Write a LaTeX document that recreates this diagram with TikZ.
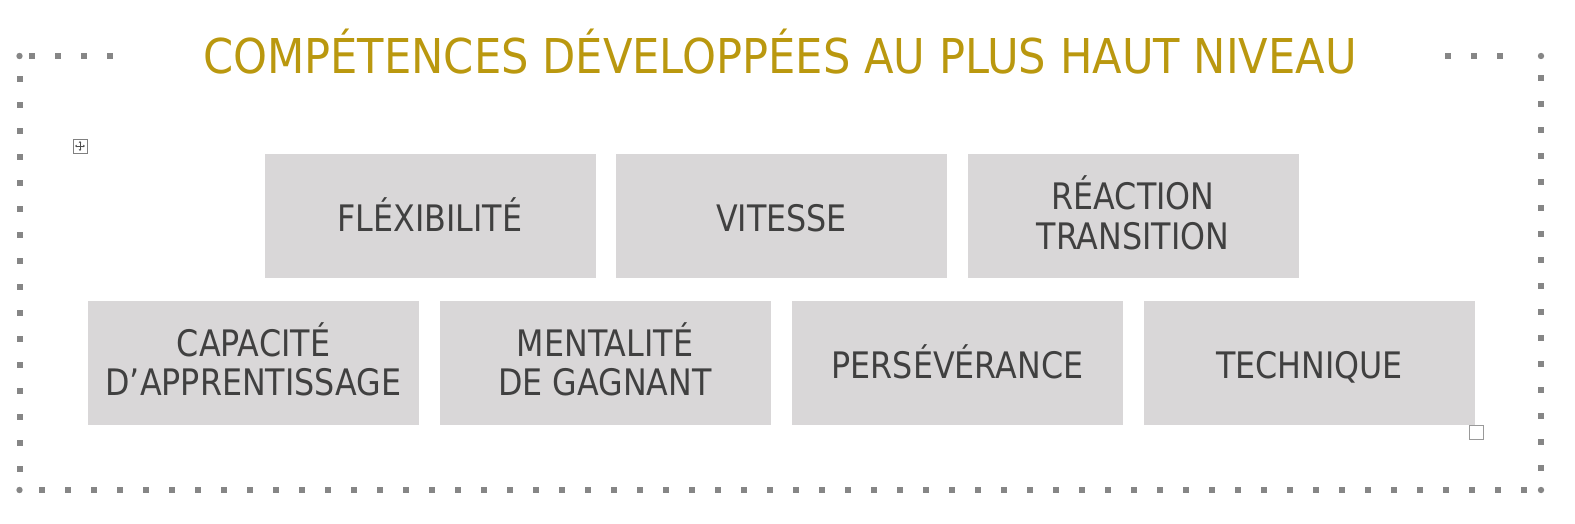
\documentclass[tikz,border=0pt]{standalone}
\usepackage{fontspec}
\setmainfont{DejaVu Sans}
\newfontfamily\boxfont[FakeStretch=0.87]{DejaVu Sans}
\newfontfamily\titlefont[FakeStretch=0.9]{DejaVu Sans}
\usetikzlibrary{arrows.meta}
\definecolor{boxgray}{HTML}{D9D7D8}
\definecolor{textgray}{HTML}{404040}
\definecolor{titlegold}{HTML}{BA980F}
\definecolor{dotgray}{HTML}{868686}
\begin{document}
\begin{tikzpicture}[x=1pt,y=-1pt,
  box node/.style={fill=boxgray,minimum width=331pt,minimum height=124pt,inner sep=0pt,
    align=center,text=textgray,text depth=0pt,font=\boxfont\fontsize{36.5}{39.5}\selectfont},
  one line/.style={text height=31.4pt},
  two lines/.style={text height=66pt},
  frame dot/.style={fill=dotgray,minimum size=6pt,inner sep=0pt}]
  \useasboundingbox (0,0) rectangle (1575,524);
  % dotted frame
  \foreach \x in {32,58,84,110,1448,1474,1500} \node[frame dot] at (\x,56) {};
  \foreach \x in {0,...,57} \node[frame dot] at (41.7+26*\x,490) {};
  \foreach \y in {0,...,15} {
    \node[frame dot] at (19.5,79+26*\y) {};
    \node[frame dot] at (1541,78+26*\y) {};
  }
  \foreach \x/\y in {19.5/56,19.5/490,1541/490,1541/56} \fill[dotgray] (\x,\y) circle (3.2pt);
  % title
  \node[anchor=base,text=titlegold,font=\titlefont\fontsize{48}{48}\selectfont] (0) at (780,73.3)
    {COMPÉTENCES DÉVELOPPÉES AU PLUS HAUT NIVEAU};
  % top row
  \node[box node,one line] (1) at (430,216) {FLÉXIBILITÉ};
  \node[box node,one line] (2) at (781.5,216) {VITESSE};
  \node[box node,two lines] (3) at (1133,216) {RÉACTION\\TRANSITION};
  % bottom row
  \node[box node,two lines] (4) at (253.5,362.5) {CAPACITÉ\\D’APPRENTISSAGE};
  \node[box node,two lines] (5) at (605,362.5) {MENTALITÉ\\DE GAGNANT};
  \node[box node,one line] (6) at (957.5,362.5) {PERSÉVÉRANCE};
  \node[box node,one line] (7) at (1309.5,362.5) {TECHNIQUE};
  % handles
  \node[draw=gray,line width=0.8pt,minimum size=14pt,inner sep=0pt] (8) at (80,146) {};
  \foreach \a in {0,90,180,270}
    \draw[black!70,line width=0.6pt,-{Stealth[length=2pt,width=2.5pt]}] (8.center) -- ++(\a:5pt);
  \node[draw=gray!80,line width=1pt,minimum size=14pt,inner sep=0pt] (9) at (1476,432) {};
\end{tikzpicture}
\end{document}
